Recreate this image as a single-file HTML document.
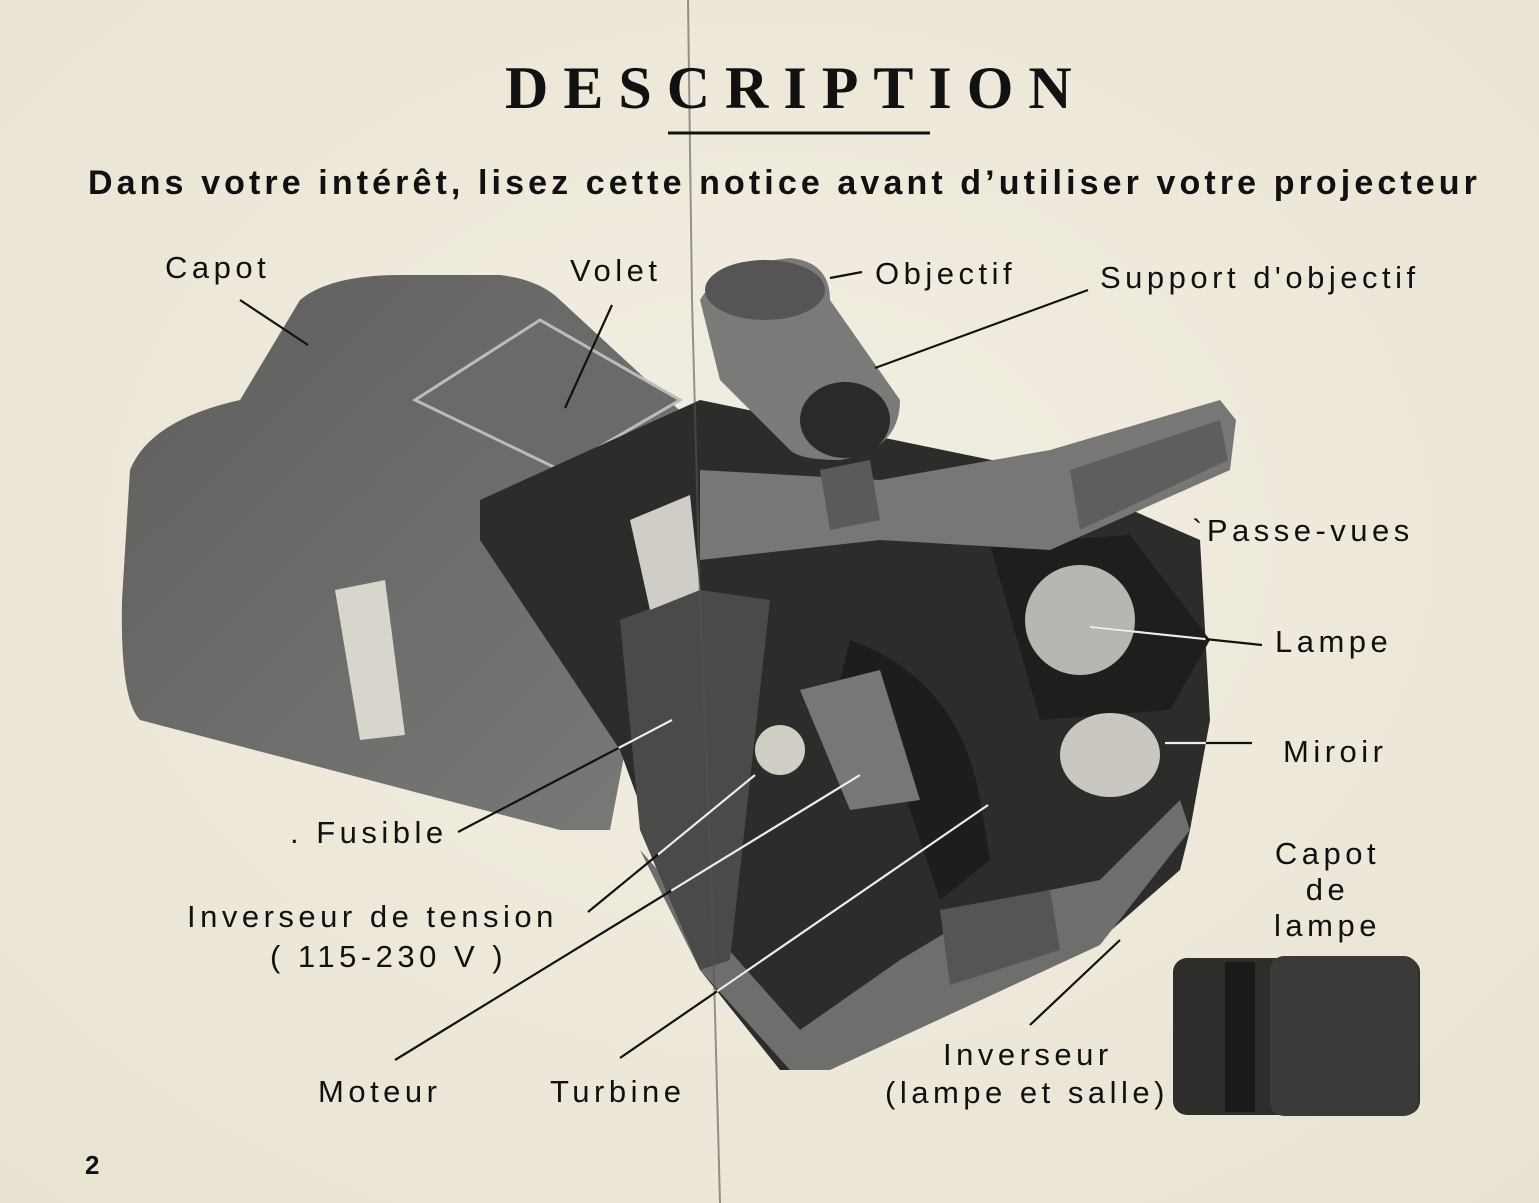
<!DOCTYPE html>
<html><head><meta charset="utf-8"><style>
html,body{margin:0;padding:0}
body{width:1539px;height:1203px;background:#f0ece0;position:relative;overflow:hidden;font-family:"Liberation Sans",sans-serif;color:#111}
.t{position:absolute;white-space:nowrap}
.lb{font-size:31px;letter-spacing:4.5px;line-height:1}
</style></head><body>
<svg width="1539" height="1203" style="position:absolute;left:0;top:0">
<defs>
<radialGradient id="bg" cx="50%" cy="45%" r="75%"><stop offset="0" stop-color="#f3efe3"/><stop offset="1" stop-color="#e8e2d2"/></radialGradient>
<linearGradient id="cap" x1="0" y1="0" x2="1" y2="1"><stop offset="0" stop-color="#5e5e5c"/><stop offset="1" stop-color="#7a7a78"/></linearGradient>
<clipPath id="dark"><path d="M480 500 L700 400 L1040 470 L1200 540 L1210 720 L1190 830 L1180 870 L1100 940 L820 1070 L780 1070 L700 970 L620 750 L480 540 Z"/></clipPath>
</defs>
<rect width="1539" height="1203" fill="url(#bg)"/>
<path d="M130 470 Q150 420 240 400 L300 300 Q330 275 400 275 L500 275 Q540 280 560 300 L690 420 L650 620 L610 830 L560 830 L140 720 Q120 700 122 600 Z" fill="url(#cap)"/>
<path d="M415 400 L540 320 L680 400 L560 470 Z" fill="#6a6a68" stroke="#bbb" stroke-width="3"/>
<path d="M335 590 L385 580 L405 735 L360 740 Z" fill="#d8d6cc"/>
<path d="M480 500 L700 400 L1040 470 L1200 540 L1210 720 L1190 830 L1180 870 L1100 940 L820 1070 L780 1070 L700 970 L620 750 L480 540 Z" fill="#2c2c2b"/>
<path d="M640 850 L700 970 L790 1070 L830 1070 L1100 945 L1190 830 L1180 800 L1100 880 L1000 900 L900 960 L800 1030 Z" fill="#6e6e6c"/>
<path d="M620 620 L700 590 L770 600 L730 960 L700 970 L640 830 Z" fill="#4a4a48"/>
<path d="M850 640 Q960 680 980 800 L990 860 L940 900 L900 780 Q870 700 840 680 Z" fill="#1d1d1c"/>
<circle cx="780" cy="750" r="25" fill="#d0cdc4"/>
<path d="M800 690 L880 670 L920 800 L850 810 Z" fill="#777"/>
<path d="M940 910 L1050 890 L1060 950 L950 985 Z" fill="#555"/>
<path d="M990 545 L1130 535 L1210 640 L1170 710 L1040 720 Z" fill="#1e1e1d"/>
<circle cx="1080" cy="620" r="55" fill="#b8b6b0"/>
<ellipse cx="1110" cy="755" rx="50" ry="42" fill="#c9c7c0"/>
<path d="M700 470 L880 480 L1050 450 L1220 400 L1236 420 L1230 470 L1050 550 L880 540 L700 560 Z" fill="#777775"/>
<path d="M1070 470 L1220 420 L1228 460 L1080 530 Z" fill="#5e5e5c"/>
<path d="M630 520 L690 495 L700 590 L650 610 Z" fill="#cfcdc6"/>
<path d="M700 300 Q720 265 790 258 Q830 262 830 300 L900 400 Q900 450 840 460 Q800 460 790 450 L720 380 Z" fill="#7a7a78"/>
<ellipse cx="845" cy="420" rx="45" ry="38" fill="#2a2a29"/>
<ellipse cx="765" cy="290" rx="60" ry="30" fill="#555"/>
<path d="M820 470 L870 460 L880 520 L830 530 Z" fill="#5a5a58"/>
<rect x="1173" y="958" width="247" height="157" rx="14" fill="#2d2d2c"/>
<rect x="1270" y="956" width="148" height="160" rx="14" fill="#3a3a39"/>
<rect x="1225" y="962" width="30" height="150" fill="#1a1a1a"/>
<path d="M688 0 L692 300 L700 600 L712 900 L720 1203" stroke="#555" stroke-width="2" fill="none" opacity=".6"/>
<g stroke="#111" stroke-width="2.2">
<line x1="240" y1="300" x2="308" y2="345"/>
<line x1="830" y1="278" x2="862" y2="272"/>
<line x1="1088" y1="290" x2="875" y2="368"/>
<line x1="612" y1="305" x2="565" y2="408"/>
<line x1="1262" y1="645" x2="1090" y2="627"/>
<line x1="1252" y1="743" x2="1165" y2="743"/>
<line x1="458" y1="832" x2="672" y2="720"/>
<line x1="588" y1="912" x2="755" y2="775"/>
<line x1="395" y1="1060" x2="860" y2="775"/>
<line x1="620" y1="1058" x2="988" y2="805"/>
<line x1="1030" y1="1025" x2="1120" y2="940"/>
</g>
<g stroke="#eee" stroke-width="2.2" clip-path="url(#dark)">
<line x1="1262" y1="645" x2="1090" y2="627"/>
<line x1="1252" y1="743" x2="1165" y2="743"/>
<line x1="458" y1="832" x2="672" y2="720"/>
<line x1="588" y1="912" x2="755" y2="775"/>
<line x1="395" y1="1060" x2="860" y2="775"/>
<line x1="620" y1="1058" x2="988" y2="805"/>
</g>
<line x1="668" y1="133" x2="930" y2="133" stroke="#111" stroke-width="3"/>
</svg>
<div class="t" style="left:505px;top:58px;font-family:'Liberation Serif',serif;font-weight:bold;font-size:60px;letter-spacing:15px;line-height:1">DESCRIPTION</div>
<div class="t" style="left:88px;top:166px;font-weight:bold;font-size:34px;letter-spacing:4.1px;line-height:1">Dans votre intérêt, lisez cette notice avant d’utiliser votre projecteur</div>
<div class="t lb" style="left:165px;top:252px">Capot</div>
<div class="t lb" style="left:570px;top:255px">Volet</div>
<div class="t lb" style="left:875px;top:258px">Objectif</div>
<div class="t lb" style="left:1100px;top:262px">Support d'objectif</div>
<div class="t lb" style="left:1192px;top:515px">`Passe-vues</div>
<div class="t lb" style="left:1275px;top:626px">Lampe</div>
<div class="t lb" style="left:1283px;top:736px">Miroir</div>
<div class="t lb" style="left:1265px;top:836px;text-align:center;width:125px;line-height:36px">Capot<br>de<br>lampe</div>
<div class="t lb" style="left:290px;top:817px">. Fusible</div>
<div class="t lb" style="left:187px;top:901px">Inverseur de tension</div>
<div class="t lb" style="left:270px;top:941px">( 115-230 V )</div>
<div class="t lb" style="left:318px;top:1076px">Moteur</div>
<div class="t lb" style="left:550px;top:1076px">Turbine</div>
<div class="t lb" style="left:943px;top:1039px">Inverseur</div>
<div class="t lb" style="left:885px;top:1077px">(lampe et salle)</div>
<div class="t" style="left:85px;top:1150px;font-size:26px;font-weight:bold">2</div>
</body></html>
